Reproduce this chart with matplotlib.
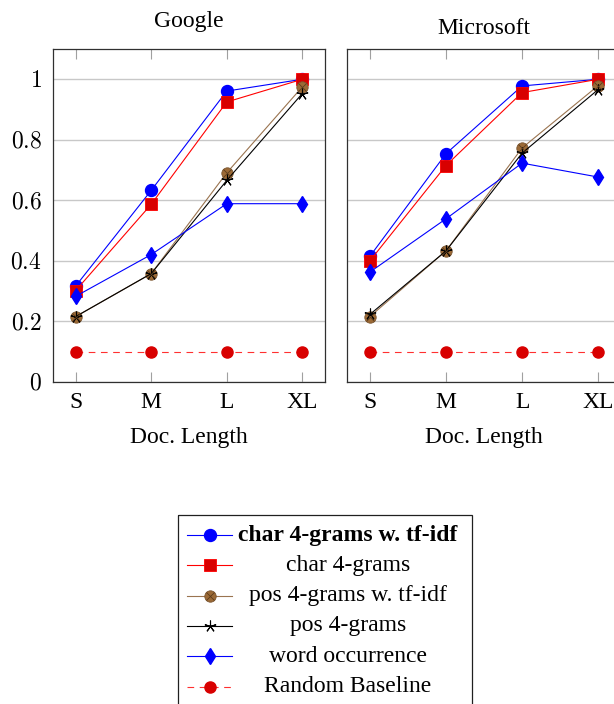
import matplotlib
matplotlib.use("Agg")
import matplotlib.pyplot as plt
from matplotlib.lines import Line2D
from matplotlib.patches import Rectangle

plt.rcParams['font.family'] = ['Liberation Serif', 'DejaVu Serif']
plt.rcParams['mathtext.fontset'] = 'cm'
FS = 17

# data --------------------------------------------------------------------
lengths = ['S', 'M', 'L', 'XL']
yticks = [0, 0.2, 0.4, 0.6, 0.8, 1.0]
ytick_labels = ['$0$', '$0.2$', '$0.4$', '$0.6$', '$0.8$', '$1$']
datasets = ['Google', 'Microsoft']

char_tfidf = {'Google': [0.317, 0.633, 0.961, 1.0],
              'Microsoft': [0.415, 0.754, 0.978, 1.0]}
char_grams = {'Google': [0.302, 0.587, 0.925, 1.0],
              'Microsoft': [0.400, 0.715, 0.956, 1.0]}
pos_tfidf = {'Google': [0.216, 0.358, 0.691, 0.975],
             'Microsoft': [0.216, 0.433, 0.773, 0.979]}
pos_grams = {'Google': [0.216, 0.358, 0.666, 0.953],
             'Microsoft': [0.223, 0.433, 0.756, 0.966]}
word_occ = {'Google': [0.283, 0.421, 0.589, 0.589],
            'Microsoft': [0.363, 0.539, 0.723, 0.677]}
baseline = {'Google': [0.1, 0.1, 0.1, 0.1],
            'Microsoft': [0.1, 0.1, 0.1, 0.1]}

legend_labels = ['char 4-grams w. tf-idf', 'char 4-grams', 'pos 4-grams w. tf-idf',
                 'pos 4-grams', 'word occurrence', 'Random Baseline']

# styles ------------------------------------------------------------------
BLUE = '#0000ff'
RED = '#ff0000'
DRED = '#d80000'
BROWN = '#9a7450'
BROWNF = '#9c6a36'
lw = 0.8
styles = [
    dict(color=BLUE, lw=lw, marker='o', ms=8.6, mfc=BLUE, mec=BLUE),
    dict(color=RED, lw=lw, marker='s', ms=8, mfc=DRED, mec=RED, mew=0.6),
    dict(color=BROWN, lw=lw, marker='o', ms=8.2, mfc=BROWNF, mec='#7a5530', mew=0.6),
    dict(color='black', lw=lw, marker=(5, 2, 0), ms=8.5, mec='black', mew=0.8),
    dict(color=BLUE, lw=lw, marker='d', ms=8, mfc=BLUE, mec=BLUE),
    dict(color='#ff3030', lw=lw, ls=(0, (6, 5)), marker='o', ms=8, mfc=DRED, mec=DRED),
]
series = [char_tfidf, char_grams, pos_tfidf, pos_grams, word_occ, baseline]

W, H = 614, 704
fig = plt.figure(figsize=(W / 100, H / 100), dpi=100)


def px(x0, y0, x1, y1):
    return [x0 / W, 1 - y1 / H, (x1 - x0) / W, (y1 - y0) / H]


boxes = {'Google': (53, 49, 325, 382), 'Microsoft': (347, 49, 621, 382)}
title_y = {'Google': 22, 'Microsoft': 28}

x = list(range(len(lengths)))
for name in datasets:
    ax = fig.add_axes(px(*boxes[name]))
    for s, st in zip(series, styles):
        ax.plot(x, s[name], **st, zorder=3)
        if st is styles[2]:
            ax.plot(x, s[name], ls='none', marker='x', ms=5.5, mec='#5a3c1c', mew=0.6, zorder=3.5)
    ax.set_xlim(-0.3, 3.3)
    ax.set_ylim(0, 1.1)
    ax.set_xticks(x)
    ax.set_xticklabels(lengths, fontsize=FS)
    ax.set_yticks(yticks)
    if name == 'Google':
        ax.set_yticklabels(ytick_labels, fontsize=FS)
    else:
        ax.set_yticklabels([])
    ax.tick_params(axis='x', direction='in', length=7, width=0.8, color='#a0a0a0',
                   top=True, pad=7)
    ax.tick_params(axis='y', length=0, pad=8)
    ax.grid(axis='y', color='#c8c8c8', lw=1)
    ax.set_axisbelow(True)
    for sp in ax.spines.values():
        sp.set_linewidth(0.9)
        sp.set_color('#303030')
    bx = boxes[name]
    cx = (bx[0] + bx[2]) / 2
    fig.text(cx / W, 1 - title_y[name] / H, name, fontsize=FS, ha='center', va='center')
    fig.text(cx / W, 1 - 438 / H, 'Doc. Length', fontsize=FS, ha='center', va='center')

# legend (drawn manually so the text is centred like in pgfplots) --------
lax = fig.add_axes([0, 0, 1, 1])
lax.set_xlim(0, W)
lax.set_ylim(H, 0)
lax.axis('off')
lax.add_patch(Rectangle((178, 515), 294, 220, fill=False, ec='#202020', lw=0.9))
for i, (lab, st) in enumerate(zip(legend_labels, styles)):
    yy = 535 + i * 30.3
    kw = dict(st)
    lax.add_line(Line2D([187, 232], [yy, yy], **{k: v for k, v in kw.items() if k not in ('marker', 'ms', 'mfc', 'mec', 'mew')}))
    lax.add_line(Line2D([209.5], [yy], ls='none', marker=kw['marker'], ms=kw['ms'],
                        mfc=kw.get('mfc', 'none'), mec=kw.get('mec'), mew=kw.get('mew', 1)))
    if i == 2:
        lax.add_line(Line2D([209.5], [yy], ls='none', marker='x', ms=5.5, mec='#5a3c1c', mew=0.6))
    lax.text(348, yy, lab, fontsize=FS, ha='center', va='center',
             fontweight='bold' if i == 0 else 'normal')

fig.savefig('out.png', dpi=100)
